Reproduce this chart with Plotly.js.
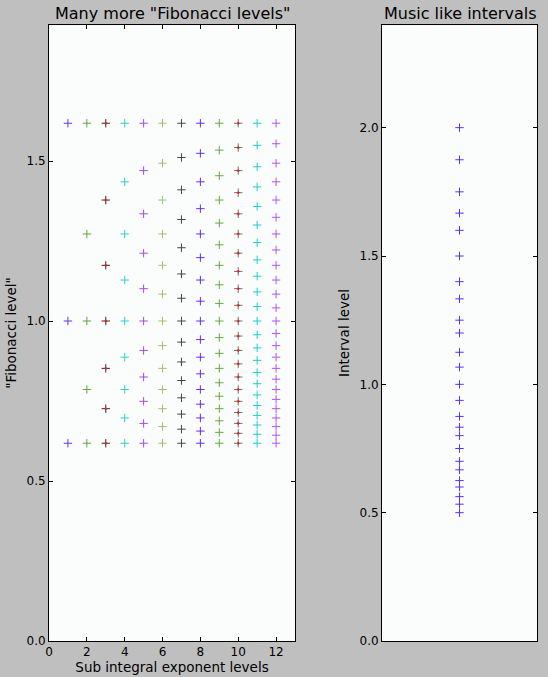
<!DOCTYPE html>
<html><head><meta charset="utf-8">
<script src="https://cdn.plot.ly/plotly-3.0.1.min.js"></script>
<style>html,body{margin:0;padding:0;background:#bfbfbf;}</style>
</head><body><div id="chart" style="width:548px;height:677px;"></div>
<script>
// Left panel: exponent levels (x) and the level values read for each
const exponents = [1,2,3,4,5,6,7,8,9,10,11,12];
const lv1  = [0.618, 1.000, 1.618];
const lv2  = [0.618, 0.786, 1.000, 1.272, 1.618];
const lv3  = [0.618, 0.726, 0.852, 1.000, 1.174, 1.378, 1.618];
const lv4  = [0.618, 0.697, 0.786, 0.887, 1.000, 1.128, 1.272, 1.435, 1.618];
const lv5  = [0.618, 0.680, 0.749, 0.825, 0.908, 1.000, 1.101, 1.212, 1.335, 1.470, 1.618];
const lv6  = [0.618, 0.670, 0.726, 0.786, 0.852, 0.923, 1.000, 1.084, 1.174, 1.272, 1.378, 1.493, 1.618];
const lv7  = [0.618, 0.662, 0.709, 0.760, 0.814, 0.872, 0.934, 1.000, 1.071, 1.147, 1.229, 1.317, 1.410, 1.511, 1.618];
const lv8  = [0.618, 0.656, 0.697, 0.740, 0.786, 0.835, 0.887, 0.942, 1.000, 1.062, 1.128, 1.198, 1.272, 1.351, 1.435, 1.524, 1.618];
const lv9  = [0.618, 0.652, 0.688, 0.726, 0.765, 0.807, 0.852, 0.899, 0.948, 1.000, 1.055, 1.113, 1.174, 1.238, 1.306, 1.378, 1.454, 1.534, 1.618];
const lv10 = [0.618, 0.649, 0.680, 0.714, 0.749, 0.786, 0.825, 0.866, 0.908, 0.953, 1.000, 1.049, 1.101, 1.155, 1.212, 1.272, 1.335, 1.401, 1.470, 1.542, 1.618];
const lv11 = [0.618, 0.646, 0.675, 0.705, 0.736, 0.769, 0.804, 0.839, 0.877, 0.916, 0.957, 1.000, 1.045, 1.091, 1.140, 1.191, 1.245, 1.300, 1.358, 1.419, 1.482, 1.549, 1.618];
const lv12 = [0.618, 0.643, 0.670, 0.697, 0.726, 0.755, 0.786, 0.818, 0.852, 0.887, 0.923, 0.961, 1.000, 1.041, 1.084, 1.128, 1.174, 1.222, 1.272, 1.324, 1.378, 1.435, 1.493, 1.554, 1.618];
const levels = [lv1, lv2, lv3, lv4, lv5, lv6, lv7, lv8, lv9, lv10, lv11, lv12];

// Right panel: music-like interval ratios
const intervalX = 1;
const intervals = [0.5, 0.533, 0.5625, 0.6, 0.625, 0.667, 0.7, 0.75, 0.8, 0.833, 0.875, 0.9375,
                   1.0, 1.067, 1.125, 1.2, 1.25, 1.333, 1.4, 1.5, 1.6, 1.667, 1.75, 1.875, 2.0];

const colColors = ['#6a34f0', '#66a23a', '#3a2a2a', '#2ccfcf', '#a648f2', '#9cc46a',
                   '#444444', '#5c30f0', '#6aa83e', '#707070', '#22cccc', '#b055f2'];
const redCenter = {2: true, 9: true};

const traces = [];
levels.forEach((arr, i) => {
  traces.push({
    x: arr.map(() => exponents[i]), y: arr, type: 'scatter', mode: 'markers',
    xaxis: 'x', yaxis: 'y', hoverinfo: 'skip',
    marker: {symbol: 'cross-thin-open', size: 6, color: colColors[i], line: {width: 1, color: colColors[i]}}
  });
  if (redCenter[i]) {
    traces.push({
      x: arr.map(() => exponents[i]), y: arr, type: 'scatter', mode: 'markers',
      xaxis: 'x', yaxis: 'y', hoverinfo: 'skip',
      marker: {symbol: 'cross-thin-open', size: 2, color: '#e02020', line: {width: 1.2, color: '#e02020'}}
    });
  }
});
traces.push({
  x: intervals.map(() => intervalX), y: intervals, type: 'scatter', mode: 'markers',
  xaxis: 'x2', yaxis: 'y2', hoverinfo: 'skip',
  marker: {symbol: 'cross-thin-open', size: 6, color: '#5a30ee', line: {width: 1, color: '#5a30ee'}}
});

const W = 548, H = 677;
const yDom = [1 - 641 / H, 1 - 25 / H];
const axisCommon = {
  showline: true, linecolor: '#000', linewidth: 1, mirror: 'ticks',
  ticks: 'inside', ticklen: 4, tickcolor: '#000', showgrid: false, zeroline: false,
  tickfont: {family: 'DejaVu Sans', size: 12, color: '#000'}
};
const font = {family: 'DejaVu Sans', color: '#000'};
const titleFont = {family: 'DejaVu Sans', size: 13.5, color: '#000'};

const layout = {
  width: W, height: H,
  margin: {l: 0, r: 0, t: 0, b: 0},
  paper_bgcolor: '#bfbfbf', plot_bgcolor: '#fbfdfd',
  showlegend: false,
  font: font,
  xaxis: Object.assign({}, axisCommon, {
    domain: [49 / W, 295 / W], range: [0, 13], tickvals: [0, 2, 4, 6, 8, 10, 12],
    anchor: 'y',
    title: {text: 'Sub integral exponent levels', font: titleFont, standoff: 4}
  }),
  yaxis: Object.assign({}, axisCommon, {
    domain: yDom, range: [0, 1.925], tickvals: [0, 0.5, 1.0, 1.5], ticktext: ['0.0', '0.5', '1.0', '1.5'],
    anchor: 'x',
    title: {text: '"Fibonacci level"', font: titleFont, standoff: 6}
  }),
  xaxis2: Object.assign({}, axisCommon, {
    domain: [382 / W, 537 / W], range: [0, 2], showticklabels: false, ticks: '',
    anchor: 'y2'
  }),
  yaxis2: Object.assign({}, axisCommon, {
    domain: yDom, range: [0, 2.4], tickvals: [0, 0.5, 1.0, 1.5, 2.0], ticktext: ['0.0', '0.5', '1.0', '1.5', '2.0'],
    anchor: 'x2',
    title: {text: 'Interval level', font: titleFont, standoff: 6}
  }),
  annotations: [
    {text: 'Many more "Fibonacci levels"', xref: 'paper', yref: 'paper', x: (49 + 295) / 2 / W, y: 1 - 13 / H,
     xanchor: 'center', yanchor: 'middle', showarrow: false, font: {family: 'DejaVu Sans', size: 16, color: '#000'}},
    {text: 'Music like intervals', xref: 'paper', yref: 'paper', x: (382 + 537) / 2 / W, y: 1 - 13 / H,
     xanchor: 'center', yanchor: 'middle', showarrow: false, font: {family: 'DejaVu Sans', size: 16, color: '#000'}}
  ]
};

Plotly.newPlot('chart', traces, layout, {staticPlot: true, displayModeBar: false});
</script>
</body></html>
